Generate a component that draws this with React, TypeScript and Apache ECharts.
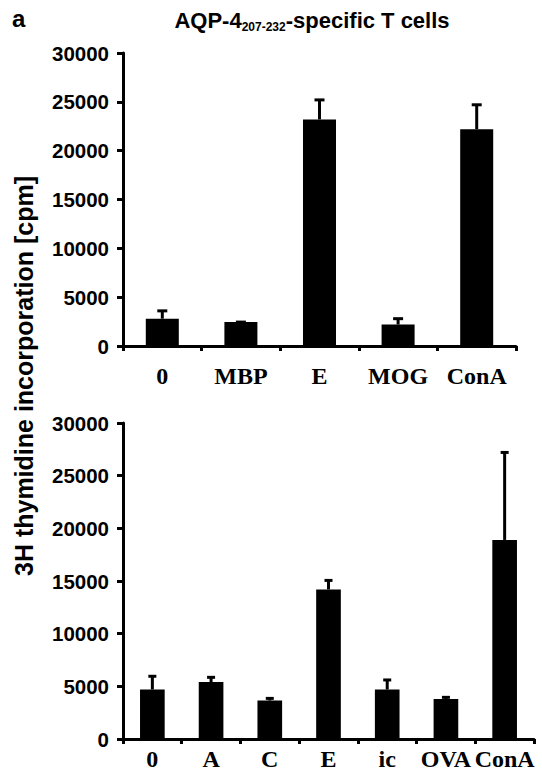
import React, { useEffect, useRef } from "react";
import * as echarts from "echarts";

const topCategories = ["0", "MBP", "E", "MOG", "ConA"];
const topMeans = [2800, 2450, 23200, 2200, 22200];
const topErrors = [900, 100, 2100, 700, 2600];

const bottomCategories = ["0", "A", "C", "E", "ic", "OVA", "ConA"];
const bottomMeans = [4700, 5400, 3650, 14200, 4700, 3800, 18900];
const bottomErrors = [1350, 550, 300, 950, 1000, 250, 8400];

const yTicks = [0, 5000, 10000, 15000, 20000, 25000, 30000];

const panelLetter = "a";
const titleMain = "AQP-4";
const titleSub = "207-232";
const titleTail = "-specific T cells";
const yAxisTitle = "3H thymidine incorporation [cpm]";

const SANS = "'Liberation Sans', Arial, sans-serif";
const SERIF = "'Liberation Serif', 'Times New Roman', serif";

function errorBarRender(capHalf: number) {
  return (params: any, api: any) => {
    const idx = api.value(0);
    const base = api.coord([idx, api.value(1)]);
    const top = api.coord([idx, api.value(2)]);
    const style = { stroke: "#000", lineWidth: 3 };
    return {
      type: "group",
      children: [
        { type: "line", shape: { x1: base[0], y1: base[1], x2: top[0], y2: top[1] + 1 }, style },
        { type: "line", shape: { x1: top[0] - capHalf, y1: top[1] + 1, x2: top[0] + capHalf, y2: top[1] + 1 }, style },
      ],
    };
  };
}

export default function App() {
  const ref = useRef<HTMLDivElement>(null);
  useEffect(() => {
    if (!ref.current) return;
    const chart = echarts.init(ref.current, undefined, { renderer: "svg" });
    const yAxisCommon = (gridIndex: number) => ({
      type: "value",
      gridIndex,
      min: yTicks[0],
      max: yTicks[yTicks.length - 1],
      interval: yTicks[1] - yTicks[0],
      splitLine: { show: false },
      axisLine: { show: true, lineStyle: { color: "#000", width: 3 } },
      axisTick: { show: true, length: 6, lineStyle: { color: "#000", width: 3 } },
      axisLabel: {
        color: "#000",
        fontFamily: SANS,
        fontWeight: "bold",
        fontSize: 20.5,
        margin: 14,
        formatter: (v: number) => String(v),
      },
    });
    const xAxisCommon = (gridIndex: number, data: string[], margin: number) => ({
      type: "category",
      gridIndex,
      data,
      axisLine: { show: true, lineStyle: { color: "#000", width: 3 } },
      axisTick: { show: true, length: 5, lineStyle: { color: "#000", width: 3 } },
      axisLabel: {
        color: "#000",
        fontFamily: SERIF,
        fontWeight: "bold",
        fontSize: 24,
        margin,
        interval: 0,
      },
    });
    chart.setOption({
      animation: false,
      backgroundColor: "#fff",
      grid: [
        { left: 123, top: 53, width: 393, height: 293 },
        { left: 123, top: 423, width: 411, height: 316 },
      ],
      xAxis: [xAxisCommon(0, topCategories, 18), xAxisCommon(1, bottomCategories, 8)],
      yAxis: [yAxisCommon(0), yAxisCommon(1)],
      series: [
        {
          type: "bar",
          xAxisIndex: 0,
          yAxisIndex: 0,
          data: topMeans,
          barWidth: "42%",
          itemStyle: { color: "#000" },
        },
        {
          type: "custom",
          xAxisIndex: 0,
          yAxisIndex: 0,
          renderItem: errorBarRender(5),
          encode: { x: 0, y: [1, 2] },
          data: topMeans.map((m, i) => [i, m, m + topErrors[i]]),
          z: 3,
        },
        {
          type: "bar",
          xAxisIndex: 1,
          yAxisIndex: 1,
          data: bottomMeans,
          barWidth: "42%",
          itemStyle: { color: "#000" },
        },
        {
          type: "custom",
          xAxisIndex: 1,
          yAxisIndex: 1,
          renderItem: errorBarRender(4),
          encode: { x: 0, y: [1, 2] },
          data: bottomMeans.map((m, i) => [i, m, m + bottomErrors[i]]),
          z: 3,
        },
      ],
      graphic: [
        {
          type: "text",
          left: 12,
          top: 6,
          style: { text: panelLetter, fontFamily: SANS, fontWeight: "bold", fontSize: 24, fill: "#000" },
        },
        {
          type: "text",
          x: 312,
          y: 20,
          style: {
            text: `{m|${titleMain}}{s|${titleSub}}{m|${titleTail}}`,
            align: "center",
            verticalAlign: "middle",
            fill: "#000",
            rich: {
              m: { fontFamily: SANS, fontWeight: "bold", fontSize: 22, lineHeight: 26, verticalAlign: "middle", fill: "#000" },
              s: { fontFamily: SANS, fontWeight: "bold", fontSize: 12, lineHeight: 26, verticalAlign: "bottom", fill: "#000" },
            },
          },
        },
        {
          type: "text",
          x: 24,
          y: 376,
          rotation: Math.PI / 2,
          style: {
            text: yAxisTitle,
            align: "center",
            verticalAlign: "middle",
            fontFamily: SANS,
            fontWeight: "bold",
            fontSize: 25,
            fill: "#000",
          },
        },
      ],
    });
    return () => chart.dispose();
  }, []);
  return (
    <div
      ref={ref}
      style={{ position: "fixed", left: 0, top: 0, width: 542, height: 775, background: "#fff" }}
    />
  );
}
